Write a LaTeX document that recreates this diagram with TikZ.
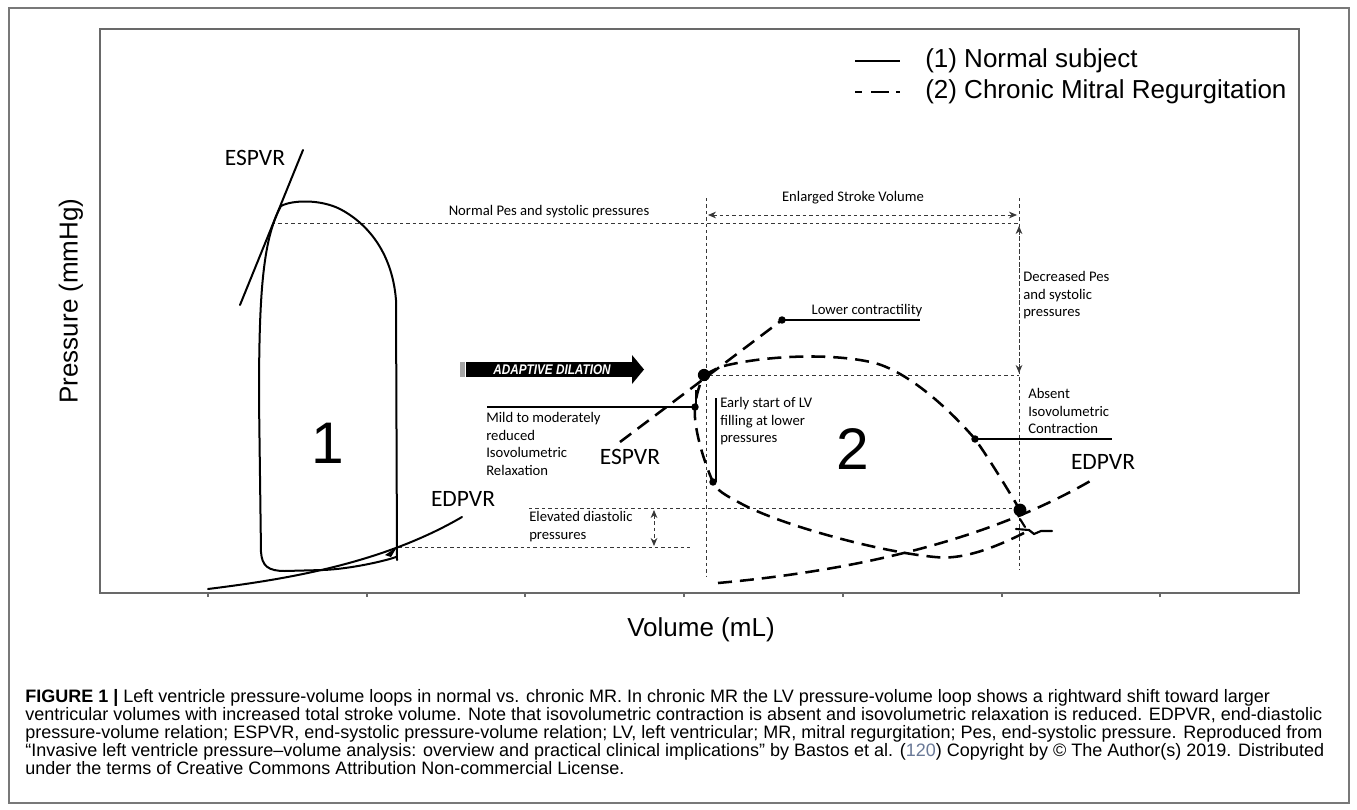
\documentclass[tikz,border=0pt]{standalone}
\usepackage{fontspec}
\usepackage{graphicx}
\setmainfont{Liberation Sans}
\newfontfamily\calib{Carlito}
\usetikzlibrary{arrows.meta}
\definecolor{framegray}{RGB}{105,105,105}
\definecolor{outergray}{RGB}{120,120,120}
\definecolor{dotgray}{RGB}{55,55,55}
\definecolor{linkblue}{RGB}{105,120,150}
\begin{document}
\begin{tikzpicture}[x=0.75pt,y=-0.75pt,
  dotln/.style={draw=dotgray,line width=0.6pt,dash pattern=on 2.6pt off 2.2pt},
  solidc/.style={line width=1.5pt,line cap=round,line join=round},
  dashc/.style={line width=1.9pt,dash pattern=on 10.5pt off 6pt},
  marker/.style={line width=1.2pt},
  ann/.style={font=\calib\fontsize{11}{13.2}\selectfont,inner sep=0pt,align=left},
  biglab/.style={font=\calib\fontsize{17.6}{20}\selectfont,inner sep=0pt},
  arial/.style={font=\fontsize{19.5}{23}\selectfont,inner sep=0pt},
  numlab/.style={font=\fontsize{44}{50}\selectfont,inner sep=0pt},
  capline/.style={font=\fontsize{13.5}{16}\selectfont,inner sep=0pt,anchor=base west},
  dtip/.style={{Stealth[length=6pt,width=5pt]}-{Stealth[length=6pt,width=5pt]}},
]
\useasboundingbox (0,0) rectangle (1357,810);
\fill[white] (0,0) rectangle (1357,810);
% frames
\draw[outergray,line width=0.8pt] (9,8) rectangle (1349,803);
\draw[framegray,line width=1.1pt] (100,29) rectangle (1299,593);
\foreach \t in {208,367,525,684,843,1002,1160} \draw[framegray,line width=0.8pt] (\t,593) -- (\t,597);
% axis labels
\node[arial,rotate=90] (ylab) at (71,301) {Pressure (mmHg)};
\node[arial] (xlab) at (701,630) {Volume (mL)};
% legend
\draw[line width=2pt] (855,61) -- (900,61);
\draw[line width=2pt,dash pattern=on 5.25pt off 6.75pt on 13.5pt off 5.25pt on 3pt off 20pt] (855,92) -- (900,92);
\node[arial,anchor=west] (leg1) at (925,61) {(1) Normal subject};
\node[arial,anchor=west] (leg2) at (925,92) {(2) Chronic Mitral Regurgitation};
% ---------- dotted guide lines ----------
\draw[dotln] (272,223) -- (1019,223);
\draw[dotln] (706,198) -- (706,577);
\draw[dotln] (1019,198) -- (1019,570);
\draw[dotln] (710,375) -- (1019,375);
\draw[dotln] (529,508) -- (1015,508);
\draw[dotln] (399,547) -- (690,547);
\draw[dotln,dtip] (708,215) -- (1017,215);
\draw[dotln,dtip] (1019,226) -- (1019,373);
\draw[dotln,dtip] (654,510) -- (654,546);
% ---------- loop 1 (normal) ----------
\draw[solidc] (281,206) .. controls (292,200) and (320,199) .. (340,209)
  .. controls (365,222) and (392,250) .. (396,300) -- (397,560);
\draw[solidc] (396,557) .. controls (385,561) and (350,569) .. (323,570) -- (285,571)
  .. controls (268,571) and (262,566) .. (261,552) -- (259,400)
  .. controls (259,300) and (262,240) .. (281,206);
\draw[solidc] (303,150) -- (240,305);
\draw[solidc] (208,589) .. controls (280,580) and (380,565) .. (462,517);
\fill (385,555) -- (397,547) -- (391,557) -- cycle;
\node[biglab] (espvr1) at (255,158) {ESPVR};
\node[biglab] (edpvr1) at (463,499) {EDPVR};
\node[numlab] (one) at (328,443) {1};
% ---------- adaptive dilation arrow ----------
\fill[gray!70] (460,362) rectangle (465,377);
\fill[black] (466,362) rectangle (633,377);
\fill[black] (632,355) -- (644,369.5) -- (632,384) -- cycle;
\node[font=\bfseries\itshape\fontsize{10.5}{12}\selectfont,text=white,inner sep=0pt] (adapt) at (552,369.5) {\scalebox{0.84}[1]{ADAPTIVE DILATION}};
% ---------- loop 2 (chronic MR) ----------
\draw[dashc] (620,442) -- (782,320);
\draw[dashc] (704,375) -- (720,367) .. controls (760,356) and (830,352) .. (875,363)
  .. controls (910,373) and (950,410) .. (975,439)
  .. controls (990,460) and (1008,490) .. (1020,510);
\draw[dashc] (1024,533) .. controls (990,550) and (960,560) .. (935,557)
  .. controls (880,552) and (780,525) .. (740,503)
  .. controls (725,495) and (716,490) .. (713,482)
  .. controls (703,460) and (693,425) .. (695,407)
  .. controls (696,395) and (700,383) .. (704,375);
\draw[dashc] (718,583) .. controls (840,572) and (980,545) .. (1092,480);
\draw[line width=1.6pt,line cap=round] (1020,519) -- (1025,527) (1016,529) -- (1029,530) -- (1034,534) -- (1041,531) -- (1052,531);
\fill (704,375) circle[radius=4.6pt];
\fill (1020,510) circle[radius=4.8pt];
\node[biglab] (espvr2) at (630,457) {ESPVR};
\node[biglab] (edpvr2) at (1103,462) {EDPVR};
\node[numlab] (two) at (853,449) {2};
% ---------- annotations ----------
\node[ann] (normpes) at (549,212) {Normal Pes and systolic pressures};
\node[ann] (esv) at (853,198) {Enlarged Stroke Volume};
\node[ann,anchor=north west] (decr) at (1023,271) {Decreased Pes\\and systolic\\pressures};
\draw[marker] (782,320) -- (920,320);
\fill (782,320) circle[radius=2.8pt];
\node[ann] (lower) at (867,311) {Lower contractility};
\draw[marker] (487,407) -- (695,407);
\draw[marker] (696,390) -- (696,407);
\fill (695,407) circle[radius=2.8pt];
\node[ann,anchor=north west] (mild) at (486,412) {Mild to moderately\\reduced\\Isovolumetric\\Relaxation};
\draw[marker] (716,398) -- (716,482);
\fill (713,482) circle[radius=2.8pt];
\node[ann,anchor=north west] (early) at (720,397) {Early start of LV\\filling at lower\\pressures};
\draw[marker] (975,439) -- (1112,439);
\fill (975,439) circle[radius=2.8pt];
\node[ann,anchor=north west] (absent) at (1028,388) {Absent\\Isovolumetric\\Contraction};
\node[ann,anchor=north west] (elev) at (529,511) {Elevated diastolic\\pressures};
% ---------- caption ----------
\node[capline] (c1) at (25,702) {\textbf{FIGURE 1 |} Left ventricle pressure-volume loops in normal vs. chronic MR. In chronic MR the LV pressure-volume loop shows a rightward shift toward larger};
\node[capline] (c2) at (25,720) {ventricular volumes with increased total stroke volume. Note that isovolumetric contraction is absent and isovolumetric relaxation is reduced. EDPVR, end-diastolic};
\node[capline] (c3) at (25,738) {pressure-volume relation; ESPVR, end-systolic pressure-volume relation; LV, left ventricular; MR, mitral regurgitation; Pes, end-systolic pressure. Reproduced from};
\node[capline] (c4) at (25,756) {“Invasive left ventricle pressure–volume analysis: overview and practical clinical implications” by Bastos et al. ({\color{linkblue}120}) Copyright by © The Author(s) 2019. Distributed};
\node[capline] (c5) at (25,774) {under the terms of Creative Commons Attribution Non-commercial License.};
\end{tikzpicture}
\end{document}
